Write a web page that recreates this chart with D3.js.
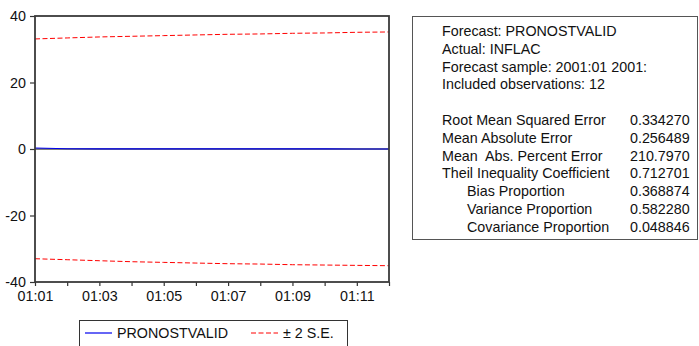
<!DOCTYPE html>
<html>
<head>
<meta charset="utf-8">
<script src="https://cdn.jsdelivr.net/npm/d3@7"></script>
<style>
  body { margin: 0; background: #fff; }
  svg { font-family: Arial, "Liberation Sans", sans-serif; }
</style>
</head>
<body>
<div id="chart"></div>
<script>
// monthly forecast, 2001:01 - 2001:12
const months = [1, 2, 3, 4, 5, 6, 7, 8, 9, 10, 11, 12];
const monthLabels = ['01:01', '01:02', '01:03', '01:04', '01:05', '01:06', '01:07', '01:08', '01:09', '01:10', '01:11', '01:12'];
const forecast = [0.3, 0.08, 0.04, 0.03, 0.02, 0.02, 0.01, 0.01, 0.01, 0.01, 0.0, 0.0];
const upperBand = [33.1, 33.4, 33.7, 33.9, 34.1, 34.3, 34.5, 34.6, 34.8, 34.9, 35.1, 35.2];
const lowerBand = [-33.0, -33.3, -33.6, -33.9, -34.1, -34.3, -34.5, -34.6, -34.8, -34.9, -35.0, -35.1];
const yTicks = [-40, -20, 0, 20, 40];

const statsHeader = ['Forecast: PRONOSTVALID', 'Actual: INFLAC', 'Forecast sample: 2001:01 2001:', 'Included observations: 12'];
const statNames = ['Root Mean Squared Error', 'Mean Absolute Error', 'Mean  Abs. Percent Error', 'Theil Inequality Coefficient',
  'Bias Proportion', 'Variance Proportion', 'Covariance Proportion'];
const statValues = ['0.334270', '0.256489', '210.7970', '0.712701', '0.368874', '0.582280', '0.048846'];
const statIndent = [0, 0, 0, 0, 1, 1, 1];

const width = 699, height = 346;
const plot = { left: 35, right: 389, top: 16, bottom: 282 };
const fontSize = '14.3px';

const svg = d3.select('#chart').append('svg')
  .attr('width', width)
  .attr('height', height);

const x = d3.scaleLinear().domain([1, 12]).range([plot.left, plot.right]);
const y = d3.scaleLinear().domain([-40, 40]).range([plot.bottom, plot.top]);

// zero line
svg.append('line')
  .attr('x1', plot.left).attr('x2', plot.right)
  .attr('y1', y(0)).attr('y2', y(0))
  .attr('stroke', '#000').attr('stroke-width', 1);

const line = (vals) => d3.line()
  .x((d, i) => x(months[i]))
  .y(d => y(d))(vals);

svg.append('path')
  .attr('d', line(upperBand))
  .attr('fill', 'none')
  .attr('stroke', '#ff0000')
  .attr('stroke-width', 1)
  .attr('stroke-dasharray', '5,2.5');

svg.append('path')
  .attr('d', line(lowerBand))
  .attr('fill', 'none')
  .attr('stroke', '#ff0000')
  .attr('stroke-width', 1)
  .attr('stroke-dasharray', '5,2.5');

svg.append('path')
  .attr('d', line(forecast))
  .attr('fill', 'none')
  .attr('stroke', '#0000ee')
  .attr('stroke-width', 1.2);

// axes
const yAxis = svg.append('g')
  .attr('transform', `translate(${plot.left},0)`)
  .call(d3.axisLeft(y).tickValues(yTicks).tickSize(5).tickPadding(4)
    .tickFormat(d => String(d)));

const xAxis = svg.append('g')
  .attr('transform', `translate(0,${plot.bottom})`)
  .call(d3.axisBottom(x).tickValues(months).tickSize(4).tickPadding(5)
    .tickFormat((d, i) => (i % 2 === 0 && i < 11) ? monthLabels[i] : ''));

[yAxis, xAxis].forEach(a => {
  a.select('.domain').remove();
  a.selectAll('.tick line').attr('stroke', '#333').attr('stroke-width', 1.2);
  a.selectAll('.tick text').attr('fill', '#111').style('font-size', fontSize)
    .style('font-family', 'Arial, "Liberation Sans", sans-serif');
});

// frame
svg.append('rect')
  .attr('x', plot.left).attr('y', plot.top)
  .attr('width', plot.right - plot.left)
  .attr('height', plot.bottom - plot.top)
  .attr('fill', 'none')
  .attr('stroke', '#3a3a3a')
  .attr('stroke-width', 1.8);

// legend
const leg = svg.append('g');
leg.append('rect')
  .attr('x', 79.5).attr('y', 320.5)
  .attr('width', 268).attr('height', 40)
  .attr('fill', '#fff').attr('stroke', '#333').attr('stroke-width', 1);
leg.append('line')
  .attr('x1', 85).attr('x2', 112).attr('y1', 333).attr('y2', 333)
  .attr('stroke', '#0000ee').attr('stroke-width', 1.2);
leg.append('text')
  .attr('x', 117).attr('y', 338)
  .style('font-size', fontSize).attr('fill', '#111')
  .text('PRONOSTVALID');
leg.append('line')
  .attr('x1', 251).attr('x2', 278).attr('y1', 333).attr('y2', 333)
  .attr('stroke', '#ff0000').attr('stroke-width', 1)
  .attr('stroke-dasharray', '5,2.5');
leg.append('text')
  .attr('x', 283).attr('y', 338)
  .style('font-size', fontSize).attr('fill', '#111')
  .text('± 2 S.E.');

// stats box
const box = svg.append('g');
box.append('rect')
  .attr('x', 412.5).attr('y', 16.5)
  .attr('width', 285).attr('height', 223)
  .attr('fill', '#fff').attr('stroke', '#555').attr('stroke-width', 1);

const lineH = 17.8;
statsHeader.forEach((t, i) => {
  box.append('text')
    .attr('x', 442).attr('y', 36 + i * lineH)
    .style('font-size', fontSize).attr('fill', '#111')
    .text(t);
});
statNames.forEach((t, i) => {
  const yy = 36 + (i + 5) * lineH;
  box.append('text')
    .attr('x', statIndent[i] ? 467 : 442).attr('y', yy)
    .style('font-size', fontSize).attr('fill', '#111')
    .style('white-space', 'pre')
    .text(t);
  box.append('text')
    .attr('x', 630).attr('y', yy)
    .style('font-size', fontSize).attr('fill', '#111')
    .text(statValues[i]);
});
</script>
</body>
</html>
